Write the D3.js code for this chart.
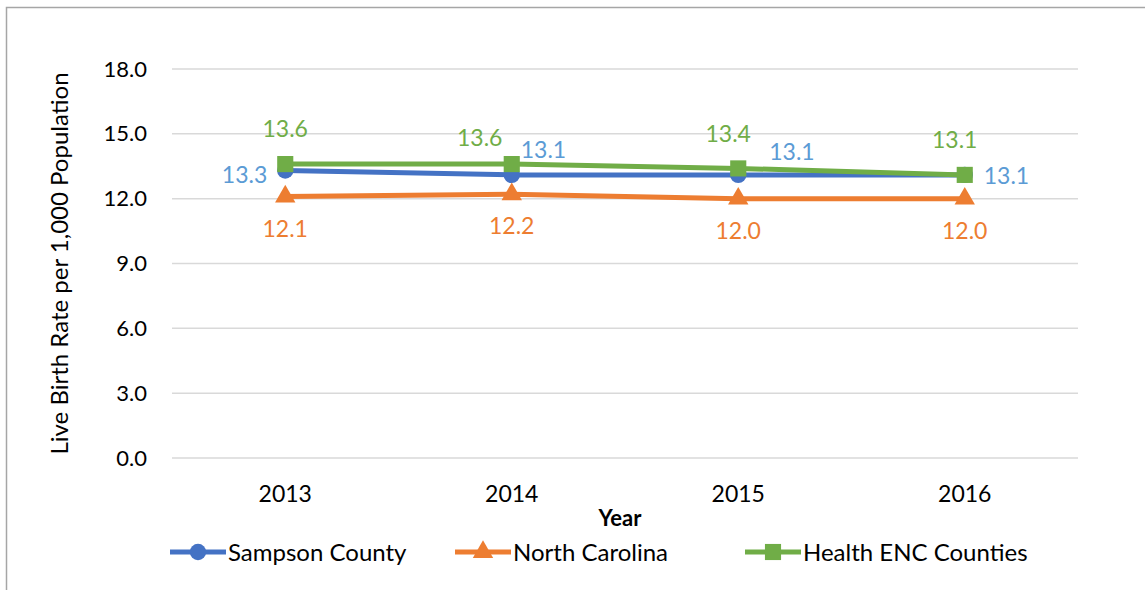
<!DOCTYPE html>
<html>
<head>
<meta charset="utf-8">
<script src="https://cdn.jsdelivr.net/npm/d3@7"></script>
<style>
  body { margin: 0; background: #fff; }
  text { font-family: Lato, "Open Sans", sans-serif; }
</style>
</head>
<body>
<svg id="chart" width="1145" height="590"></svg>
<script>
// chart data
var years = ['2013', '2014', '2015', '2016'];
var sampson = [13.3, 13.1, 13.1, 13.1];
var northCarolina = [12.1, 12.2, 12.0, 12.0];
var healthEnc = [13.6, 13.6, 13.4, 13.1];
var yTicks = [0, 3, 6, 9, 12, 15, 18];

// data label nudges [dx, dy, anchor] from each point (baseline)
var sampsonLabelNudge = [[-18, 12, 'end'], [9, -17, 'start'], [31, -15, 'start'], [19, 9, 'start']];
var ncLabelNudge = [[0, 40, 'middle'], [0, 40, 'middle'], [0, 40, 'middle'], [0, 40, 'middle']];
var healthLabelNudge = [[0, -27, 'middle'], [-32, -18, 'middle'], [-10, -26, 'middle'], [-10, -27, 'middle']];

var svg = d3.select('#chart');
var W = 1145, H = 590;
var m = {left: 172, right: 67, top: 69, bottom: 132};

// outer frame (only top and left visible in the picture)
svg.append('path')
    .attr('d', 'M6.5,' + H + 'V7.5H' + W)
    .attr('fill', 'none')
    .attr('stroke', '#a6a6a6')
    .attr('stroke-width', 1.5);

var x = d3.scaleBand().domain(years).range([m.left, W - m.right]);
var y = d3.scaleLinear().domain([0, 18]).range([H - m.bottom, m.top]);
var cx = function(d, i) { return x(years[i]) + x.bandwidth() / 2; };

// gridlines
svg.append('g')
    .selectAll('line')
    .data(yTicks)
    .join('line')
    .attr('x1', m.left).attr('x2', W - m.right)
    .attr('y1', function(d) { return y(d); })
    .attr('y2', function(d) { return y(d); })
    .attr('stroke', '#d9d9d9')
    .attr('stroke-width', 1.5);

// y axis labels
var yAxis = svg.append('g')
    .attr('transform', 'translate(' + (m.left - 22) + ',0)')
    .call(d3.axisLeft(y).tickValues(yTicks).tickFormat(d3.format('.1f')).tickSize(0));
yAxis.select('.domain').remove();
yAxis.selectAll('text').attr('font-size', 22).attr('fill', '#000').attr('font-family', 'Lato, sans-serif');

// x axis labels
var xAxis = svg.append('g')
    .attr('transform', 'translate(0,' + (H - m.bottom) + ')')
    .call(d3.axisBottom(x).tickSize(0));
xAxis.select('.domain').remove();
xAxis.selectAll('text')
    .attr('y', 44).attr('dy', 0)
    .attr('font-size', 23).attr('fill', '#000').attr('font-family', 'Lato, sans-serif');

// axis titles
svg.append('text')
    .attr('transform', 'translate(68,' + ((m.top + H - m.bottom) / 2) + ') rotate(-90)')
    .attr('text-anchor', 'middle')
    .attr('font-size', 24)
    .text('Live Birth Rate per 1,000 Population');

svg.append('text')
    .attr('x', 620).attr('y', 526)
    .attr('text-anchor', 'middle')
    .attr('font-size', 22)
    .attr('font-weight', 'bold')
    .text('Year');

var series = [
    {name: 'Sampson County', values: sampson, color: '#4472C4', label: '#5B9BD5', marker: d3.symbolCircle, size: 210, nudge: sampsonLabelNudge},
    {name: 'North Carolina', values: northCarolina, color: '#ED7D31', label: '#ED7D31', marker: d3.symbolTriangle, size: 180, nudge: ncLabelNudge},
    {name: 'Health ENC Counties', values: healthEnc, color: '#70AD47', label: '#70AD47', marker: d3.symbolSquare, size: 260, nudge: healthLabelNudge}
];

var line = d3.line()
    .x(cx)
    .y(function(d) { return y(d); });

series.forEach(function(s) {
    var g = svg.append('g');
    g.append('path')
        .datum(s.values)
        .attr('d', line)
        .attr('fill', 'none')
        .attr('stroke', s.color)
        .attr('stroke-width', 5)
        .attr('stroke-linejoin', 'round');
    g.selectAll('.mk')
        .data(s.values)
        .join('path')
        .attr('transform', function(d, i) { return 'translate(' + cx(d, i) + ',' + y(d) + ')'; })
        .attr('d', d3.symbol().type(s.marker).size(s.size))
        .attr('fill', s.color);
});

// data labels
series.forEach(function(s) {
    svg.append('g')
        .selectAll('text')
        .data(s.values)
        .join('text')
        .attr('x', function(d, i) { return cx(d, i) + s.nudge[i][0]; })
        .attr('y', function(d, i) { return y(d) + s.nudge[i][1]; })
        .attr('text-anchor', function(d, i) { return s.nudge[i][2]; })
        .attr('font-size', 23)
        .attr('fill', s.label)
        .text(function(d) { return d3.format('.1f')(d); });
});

// legend
var legendX = [170, 455, 745];
series.forEach(function(s, i) {
    var g = svg.append('g').attr('transform', 'translate(' + legendX[i] + ',552)');
    g.append('line')
        .attr('x1', 0).attr('x2', 56)
        .attr('stroke', s.color).attr('stroke-width', 5);
    g.append('path')
        .attr('transform', 'translate(28,0)')
        .attr('d', d3.symbol().type(s.marker).size(s.size))
        .attr('fill', s.color);
    g.append('text')
        .attr('x', 58).attr('y', 9)
        .attr('font-size', 24)
        .text(s.name);
});
</script>
</body>
</html>
